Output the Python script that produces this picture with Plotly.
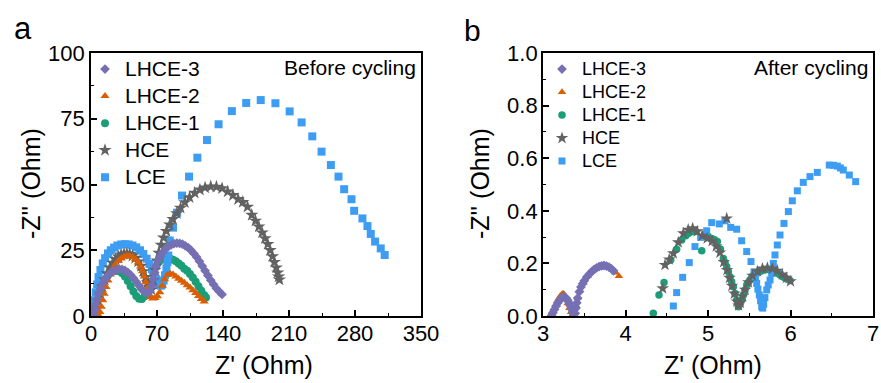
import plotly.graph_objects as go

# ---------------- Panel a: before cycling ----------------
a_lhce3_x = [3, 4, 5, 6.5, 8, 10, 12.5, 15, 18, 21, 24, 27, 30, 33, 36, 39, 42, 45, 48, 51, 54, 57, 60, 62.5, 64.5,
             66, 67.5, 69, 71, 73.5, 76, 79, 82, 85, 88, 91, 94, 97, 100, 103, 106, 109, 112, 115, 118, 121, 124,
             127, 130, 133, 136, 139]
a_lhce3_y = [0.5, 2.5, 4.5, 6.5, 8.5, 10.5, 12.5, 14, 15.5, 16.5, 17.2, 17.6, 17.8, 17.7, 17.3, 16.6, 15.6, 14.4, 13,
             11.5, 10, 9, 8.8, 9.5, 11.5, 14, 16.5, 19, 21, 22.8, 24.2, 25.5, 26.4, 27, 27.5, 27.7, 27.6, 27.3, 26.7,
             26, 25, 23.8, 22.4, 20.8, 19, 17.2, 15.4, 13.6, 12, 10.5, 9.3, 8.2]

a_lhce2_x = [8, 9.5, 11, 12.5, 14, 16, 18, 20.5, 23, 26, 29, 32, 35, 38, 41, 44, 47, 50, 52.5, 54.5, 56.5, 58, 59.5,
             61, 63, 65.5, 68, 70.5, 73, 75.5, 78, 81, 84, 87, 90, 93, 96, 99, 102, 105, 108, 111, 114, 117, 120]
a_lhce2_y = [0.3, 1.5, 3.5, 6, 8.5, 11, 13.5, 15.8, 17.8, 19.6, 20.9, 21.9, 22.5, 22.8, 22.8, 22.4, 21.6, 20.3, 18.8,
             17, 15, 12.8, 10.5, 8.5, 7.2, 6.7, 6.8, 7.5, 9, 11.5, 14, 15.6, 16.1, 15.8, 15, 14.2, 13.4, 12.6, 11.7,
             10.8, 9.8, 8.7, 7.6, 6.5, 5.5]

a_lhce1_x = [3, 4.5, 6, 8, 10, 12.5, 15, 18, 21, 24, 27, 30, 33, 36, 39, 42, 45, 48, 51, 54, 57, 60, 63, 66, 69, 72,
             75, 78, 81, 84, 87, 90, 93, 96, 99, 102, 105, 108, 111, 114, 117, 120, 122]
a_lhce1_y = [0.5, 3, 5.5, 8, 10.2, 12.3, 14, 15.5, 16.5, 17, 17.2, 17, 16.3, 15, 13.3, 11.3, 9.3, 7.6, 6.6, 6.5, 7.5,
             9.8, 13, 16.2, 18.8, 20.5, 21.5, 22, 22, 21.8, 21.4, 20.8, 20, 19.1, 18, 17.2, 16, 14.6, 13, 11.3, 9.6,
             8, 7]

a_hce_x = [5, 6.5, 8, 10, 12, 14.5, 17, 20, 23, 26, 29, 32, 35, 38, 41, 44, 47, 50, 53, 55.5, 58, 60, 62, 64,
           66, 68, 70, 72, 74.5, 77, 80, 83.5, 87, 91, 95, 99.5, 104.5, 110, 115.5, 121, 127, 133, 139, 145, 150.5,
           156, 161, 166, 170.5, 174.5, 178, 181.5, 184.5, 187.5, 190, 192.5, 194.5, 196.5, 198, 199, 199.8]
a_hce_y = [0.5, 3, 5.5, 8.5, 11.2, 13.8, 16.2, 18.4, 20.2, 21.6, 22.6, 23.3, 23.6, 23.7, 23.5, 22.9, 22, 20.7, 19, 17,
           14.8, 12.8, 11, 10, 13.5, 17.5, 21, 24, 27, 29.8, 32.3, 34.7, 36.8, 39, 41.1, 43.2, 45.1, 46.8, 48, 48.8,
           49.2, 49.1, 48.5, 47.3, 45.9, 44.4, 43.3, 41.5, 38.4, 36.2, 34, 31.7, 29.5, 27.3, 25, 22.7, 20.5, 18.4,
           16.5, 15, 13.8]

a_lce_x = [2.5, 3, 4, 5, 6.5, 8, 10, 12.5, 15, 18, 21, 24.5, 28, 32, 36, 40, 44, 48, 52, 55.5, 59, 62, 64.5, 67, 69,
           71, 72.5, 74, 75.5, 77, 78.5, 80, 81, 82, 83.5, 87, 91.3, 96.5, 104, 112.8, 123, 135.3, 149.4, 164.6, 180,
           195.6, 210.7, 223.4, 234.7, 244.5, 254.4, 262.5, 268.5, 276.3, 279.1, 287.9, 293.2, 296.7, 301.3, 307.3,
           311.5]
a_lce_y = [0.5, 3, 6, 9, 12, 14.8, 17.5, 20, 22, 23.8, 25, 26, 26.8, 27.2, 27.3, 27.2, 26.8, 26.1, 25, 23.6, 21.8,
           19.8, 17.8, 15.8, 14, 12.6, 11.8, 11.5, 12, 13.5, 15.5, 18, 20.5, 23, 28.7, 33.6, 39.3, 45.8, 53, 60.2,
           66.9, 72.9, 77.9, 81, 82.1, 80.9, 77.8, 73.6, 68.3, 62.5, 57.4, 53, 48.2, 44.4, 40, 37.1, 34.2, 31.2,
           28.3, 25.7, 23.2]

# ---------------- Panel b: after cycling ----------------
b_lhce3_x = [3.105, 3.12, 3.14, 3.16, 3.18, 3.2, 3.22, 3.24, 3.26, 3.28, 3.3, 3.315, 3.33, 3.345, 3.36, 3.375, 3.39,
             3.4, 3.41, 3.42, 3.44, 3.46, 3.48, 3.5, 3.53, 3.56, 3.59, 3.62, 3.65, 3.68, 3.71, 3.74, 3.77, 3.8, 3.83,
             3.855]
b_lhce3_y = [0.002, 0.012, 0.025, 0.038, 0.05, 0.06, 0.067, 0.071, 0.072, 0.068, 0.06, 0.05, 0.039, 0.027, 0.015,
             0.006, 0.01, 0.03, 0.05, 0.068, 0.092, 0.11, 0.123, 0.134, 0.148, 0.159, 0.169, 0.177, 0.183, 0.188,
             0.191, 0.192, 0.19, 0.186, 0.179, 0.172]

b_lhce2_x = [3.09, 3.11, 3.13, 3.15, 3.17, 3.19, 3.21, 3.23, 3.245, 3.26, 3.28, 3.3, 3.32, 3.34, 3.36, 3.38, 3.4,
             3.42, 3.45, 3.49, 3.54, 3.59, 3.64, 3.69, 3.74, 3.79, 3.84, 3.88, 3.92]
b_lhce2_y = [0.004, 0.015, 0.028, 0.042, 0.055, 0.066, 0.076, 0.083, 0.086, 0.08, 0.066, 0.048, 0.03, 0.015, 0.006,
             0.012, 0.04, 0.07, 0.098, 0.126, 0.152, 0.17, 0.182, 0.19, 0.192, 0.188, 0.177, 0.165, 0.152]

b_lhce1_x = [4.337, 4.406, 4.467, 4.548, 4.62, 4.681, 4.73, 4.762, 4.80, 4.842, 4.924, 4.96, 5.0, 5.045, 5.08, 5.113,
             5.15, 5.186, 5.207, 5.227, 5.247, 5.267, 5.287, 5.307, 5.327, 5.348, 5.368, 5.388, 5.408, 5.428, 5.448,
             5.47, 5.49, 5.509, 5.535, 5.56, 5.59, 5.62, 5.65, 5.67, 5.7, 5.73, 5.752, 5.78, 5.81, 5.84, 5.87, 5.9,
             5.93, 5.96, 5.994]
b_lhce1_y = [0.010, 0.08, 0.127, 0.213, 0.254, 0.289, 0.305, 0.314, 0.32, 0.321, 0.248, 0.31, 0.303, 0.295, 0.29,
             0.283, 0.255, 0.219, 0.203, 0.187, 0.168, 0.149, 0.13, 0.111, 0.086, 0.061, 0.035, 0.045, 0.061, 0.08,
             0.099, 0.118, 0.128, 0.137, 0.15, 0.158, 0.162, 0.168, 0.172, 0.175, 0.177, 0.177, 0.175, 0.172, 0.168,
             0.163, 0.157, 0.15, 0.145, 0.14, 0.135]

b_hce_x = [4.451, 4.479, 4.53, 4.58, 4.64, 4.701, 4.76, 4.814, 4.87, 4.93, 4.99, 5.05, 5.1, 5.145, 5.227, 5.19, 5.23,
           5.26, 5.29, 5.32, 5.35, 5.37, 5.39, 5.42, 5.45, 5.49, 5.54, 5.6, 5.66, 5.72, 5.78, 5.84, 5.9, 5.95, 6.0]
b_hce_y = [0.105, 0.194, 0.215, 0.238, 0.28, 0.314, 0.328, 0.333, 0.322, 0.305, 0.295, 0.285, 0.265, 0.241, 0.371,
           0.205, 0.175, 0.145, 0.115, 0.085, 0.055, 0.04, 0.05, 0.075, 0.1, 0.128, 0.153, 0.17, 0.18, 0.183, 0.18,
           0.172, 0.158, 0.145, 0.132]

b_lce_x = [4.58, 4.62, 4.693, 4.773, 4.842, 4.911, 4.984, 5.045, 5.137, 5.206, 5.275, 5.348, 5.408, 5.469, 5.521,
           5.558, 5.575, 5.59, 5.605, 5.622, 5.637, 5.651, 5.663, 5.675, 5.69, 5.712, 5.73, 5.752, 5.772, 5.792,
           5.812, 5.84, 5.873, 5.921, 5.974, 6.022, 6.083, 6.155, 6.236, 6.325, 6.47, 6.52, 6.568, 6.605, 6.64,
           6.713, 6.79]
b_lce_y = [0.038, 0.089, 0.147, 0.203, 0.264, 0.299, 0.324, 0.355, 0.35, 0.362, 0.337, 0.33, 0.286, 0.245, 0.207,
           0.168, 0.146, 0.124, 0.102, 0.08, 0.058, 0.035, 0.03, 0.045, 0.07, 0.099, 0.118, 0.137, 0.162, 0.2,
           0.232, 0.27, 0.308, 0.352, 0.397, 0.438, 0.476, 0.508, 0.53, 0.546, 0.574, 0.573, 0.57, 0.563, 0.555,
           0.536, 0.511]

series_names = ["LHCE-3", "LHCE-2", "LHCE-1", "HCE", "LCE"]
a_x_ticks = [0, 70, 140, 210, 280, 350]
a_y_ticks = [0, 25, 50, 75, 100]
b_x_ticks = [3, 4, 5, 6, 7]
b_y_ticks = [0.0, 0.2, 0.4, 0.6, 0.8, 1.0]

FONT = "Liberation Sans, Arial, sans-serif"
colors = {"LHCE-3": "#7570B3", "LHCE-2": "#D95F02", "LHCE-1": "#1B9E77", "HCE": "#626262", "LCE": "#3D9DF3"}
symbols = {"LHCE-3": "diamond", "LHCE-2": "triangle-up", "LHCE-1": "circle", "HCE": "star", "LCE": "square"}
sizes_a = {"LHCE-3": 7.5, "LHCE-2": 8, "LHCE-1": 8, "HCE": 10, "LCE": 8}
sizes_b = {"LHCE-3": 7.5, "LHCE-2": 7.5, "LHCE-1": 7.5, "HCE": 9.5, "LCE": 7}
rank = {n: i + 1 for i, n in enumerate(series_names)}

panel_a = {"LHCE-3": (a_lhce3_x, a_lhce3_y), "LHCE-2": (a_lhce2_x, a_lhce2_y), "LHCE-1": (a_lhce1_x, a_lhce1_y),
           "HCE": (a_hce_x, a_hce_y), "LCE": (a_lce_x, a_lce_y)}
panel_b = {"LHCE-3": (b_lhce3_x, b_lhce3_y), "LHCE-2": (b_lhce2_x, b_lhce2_y), "LHCE-1": (b_lhce1_x, b_lhce1_y),
           "HCE": (b_hce_x, b_hce_y), "LCE": (b_lce_x, b_lce_y)}
draw_order = ["LHCE-1", "LCE", "HCE", "LHCE-2", "LHCE-3"]

fig = go.Figure()
for panel, sizes, xa, ya, leg, fs in [(panel_a, sizes_a, "x", "y", "legend", 21),
                                      (panel_b, sizes_b, "x2", "y2", "legend2", 18)]:
    for n in draw_order:
        xs, ys = panel[n]
        fig.add_trace(go.Scatter(
            x=xs, y=ys, mode="markers", xaxis=xa, yaxis=ya, legend=leg,
            name=f"<span style='font-size:{fs}px'>{n}</span>", legendrank=rank[n],
            marker=dict(color=colors[n], symbol=symbols[n], size=sizes[n], line=dict(width=0)),
        ))

W, H = 881, 383
def px_x(p): return p / W
def px_y(p): return 1 - p / H

axis_common = dict(showgrid=False, zeroline=False, showline=True, linecolor="black", linewidth=1.8,
                   mirror=True, ticks="inside", ticklen=6, tickwidth=1.5, tickcolor="black", automargin=False,
                   tickfont=dict(family=FONT, size=22, color="black"))

fig.update_layout(
    width=W, height=H, margin=dict(l=0, r=0, t=0, b=0, pad=0, autoexpand=False),
    paper_bgcolor="white", plot_bgcolor="white",
    font=dict(family=FONT, color="black"),
    xaxis=dict(domain=[px_x(91), px_x(421)], range=[0, 350], tickvals=a_x_ticks, anchor="y",
               minor=dict(ticks="inside", ticklen=3, tickwidth=1.2, tickcolor="black", dtick=35),
               ticklabelstandoff=-3, **axis_common),
    yaxis=dict(domain=[px_y(316), px_y(53)], range=[0, 100], tickvals=a_y_ticks, anchor="x",
               minor=dict(ticks="inside", ticklen=3, tickwidth=1.2, tickcolor="black", dtick=12.5),
               ticklabelstandoff=0, **axis_common),
    xaxis2=dict(domain=[px_x(543), px_x(873)], range=[3, 7], tickvals=b_x_ticks, anchor="y2",
                minor=dict(ticks="inside", ticklen=3, tickwidth=1.2, tickcolor="black", dtick=0.5),
                ticklabelstandoff=-3, **axis_common),
    yaxis2=dict(domain=[px_y(316), px_y(53)], range=[0, 1], tickvals=b_y_ticks, tickformat=".1f", anchor="x2",
                minor=dict(ticks="inside", ticklen=3, tickwidth=1.2, tickcolor="black", dtick=0.1),
                ticklabelstandoff=-1, **axis_common),
    legend=dict(x=px_x(85), y=px_y(50.5), xanchor="left", yanchor="top", bgcolor="rgba(0,0,0,0)",
                font=dict(family=FONT, size=18.5, color="black"), borderwidth=0),
    legend2=dict(x=px_x(542), y=px_y(52.5), xanchor="left", yanchor="top", bgcolor="rgba(0,0,0,0)",
                 font=dict(family=FONT, size=15.4, color="black"), borderwidth=0),
)

ann = [
    dict(text="a", x=px_x(23), y=px_y(28), size=31, xanchor="center", yanchor="middle", angle=0),
    dict(text="b", x=px_x(472), y=px_y(31), size=30, xanchor="center", yanchor="middle", angle=0),
    dict(text="Before cycling", x=px_x(418), y=px_y(67), size=21, xanchor="right", yanchor="middle", angle=0),
    dict(text="After cycling", x=px_x(870), y=px_y(67), size=21, xanchor="right", yanchor="middle", angle=0),
    dict(text="Z' (Ohm)", x=px_x(264), y=px_y(365), size=25, xanchor="center", yanchor="middle", angle=0),
    dict(text="Z' (Ohm)", x=px_x(713), y=px_y(365), size=25, xanchor="center", yanchor="middle", angle=0),
    dict(text="-Z'' (Ohm)", x=px_x(31), y=px_y(184), size=25, xanchor="center", yanchor="middle", angle=-90),
    dict(text="-Z'' (Ohm)", x=px_x(480), y=px_y(184), size=25, xanchor="center", yanchor="middle", angle=-90),
]
for a in ann:
    fig.add_annotation(text=a["text"], x=a["x"], y=a["y"], xref="paper", yref="paper", showarrow=False,
                       xanchor=a["xanchor"], yanchor=a["yanchor"], textangle=a["angle"],
                       font=dict(family=FONT, size=a["size"], color="black"))

fig.write_html("out.html")
